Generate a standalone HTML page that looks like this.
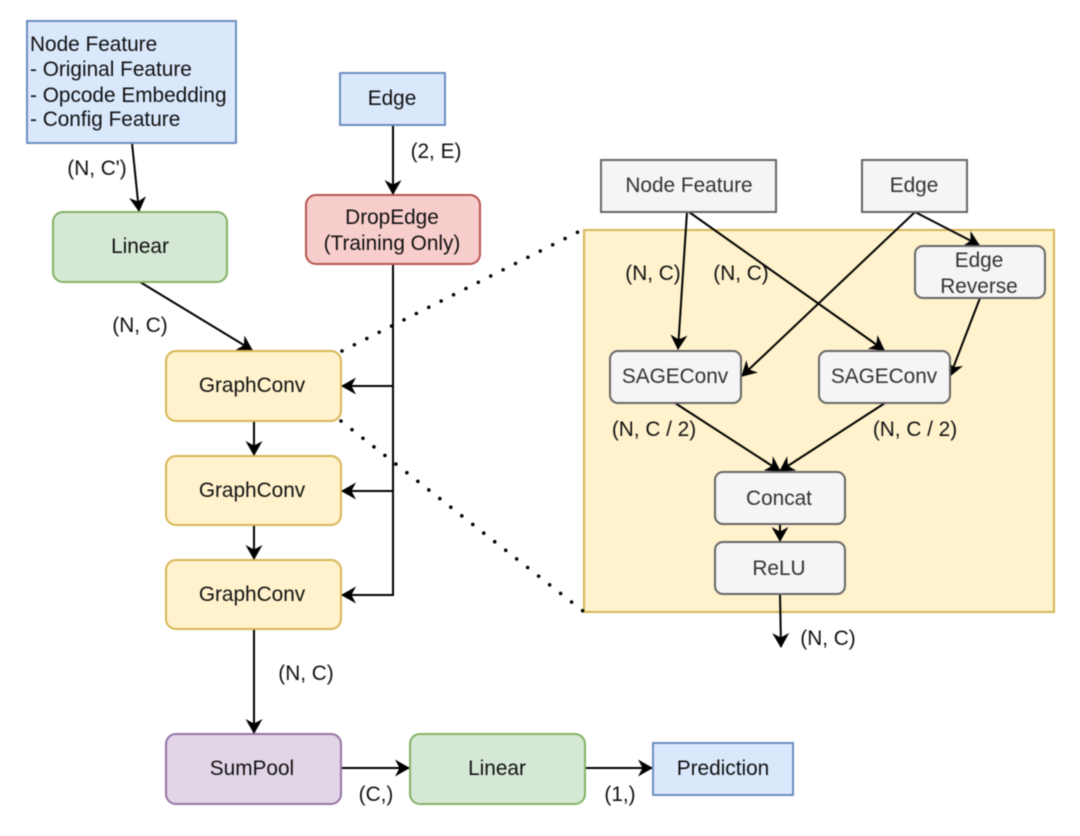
<!DOCTYPE html>
<html>
<head>
<meta charset="utf-8">
<style>
html,body{margin:0;padding:0;background:#fff;width:1080px;height:836px;overflow:hidden}
svg{display:block;filter:blur(0.45px)}
text{font-family:"Liberation Sans",sans-serif;font-size:20.8px;fill:#111;text-anchor:middle}
.l{text-anchor:start}
.g{fill:#333}
.b{fill:#dae8fc;stroke:#6c8ebf;stroke-width:2}
.gr{fill:#d5e8d4;stroke:#82b366;stroke-width:2}
.y{fill:#fff2cc;stroke:#d6b656;stroke-width:2}
.r{fill:#f8cecc;stroke:#b85450;stroke-width:2}
.p{fill:#e1d5e7;stroke:#9673a6;stroke-width:2}
.s{fill:#f5f5f5;stroke:#666;stroke-width:2}
.c{fill:none;stroke:#000;stroke-width:2}
</style>
</head>
<body>
<svg width="1080" height="836" viewBox="0 0 1080 836" xmlns="http://www.w3.org/2000/svg">
<defs>
<marker id="a" viewBox="0 0 15 17" refX="14" refY="8.5" markerWidth="15" markerHeight="17" markerUnits="userSpaceOnUse" orient="auto">
<path d="M15 8.5 L0 0 L4.5 8.5 L0 17 Z" fill="#000"/>
</marker>
</defs>

<!-- Panel -->
<rect x="584" y="230" width="470" height="382" class="y"/>

<!-- Dotted lines -->
<path d="M342 351 L578 232" fill="none" stroke="#000" stroke-width="3.6" stroke-linecap="round" stroke-dasharray="0 13.88"/>
<path d="M341 421 L583 611" fill="none" stroke="#000" stroke-width="3.6" stroke-linecap="round" stroke-dasharray="0 13.96"/>

<!-- Left connectors -->
<path class="c" d="M132 143 L139 211" marker-end="url(#a)"/>
<path class="c" d="M393 125 L393 194" marker-end="url(#a)"/>
<path class="c" d="M140 282 L252 350" marker-end="url(#a)"/>
<path class="c" d="M393 264 L393 595 L342 595" marker-end="url(#a)"/>
<path class="c" d="M393 386 L342 386" marker-end="url(#a)"/>
<path class="c" d="M393 491 L342 491" marker-end="url(#a)"/>
<path class="c" d="M254 421 L254 455" marker-end="url(#a)"/>
<path class="c" d="M254 525 L254 559" marker-end="url(#a)"/>
<path class="c" d="M254 629 L254 733" marker-end="url(#a)"/>
<path class="c" d="M341 768 L409 768" marker-end="url(#a)"/>
<path class="c" d="M585 768 L652 768" marker-end="url(#a)"/>

<!-- Left nodes -->
<rect x="27" y="21" width="209" height="122" class="b"/>
<text class="l" x="30" y="51">Node Feature</text>
<text class="l" x="30" y="76">- Original Feature</text>
<text class="l" x="30" y="102">- Opcode Embedding</text>
<text class="l" x="30" y="126">- Config Feature</text>

<rect x="340" y="73" width="105" height="52" class="b"/>
<text x="392" y="105">Edge</text>

<rect x="306" y="195" width="174" height="69" rx="10" class="r"/>
<text x="392" y="224">DropEdge</text>
<text x="392" y="250">(Training Only)</text>

<rect x="53" y="212" width="174" height="70" rx="10" class="gr"/>
<text x="140" y="253">Linear</text>

<rect x="166" y="351" width="175" height="70" rx="10" class="y"/>
<text x="252" y="392">GraphConv</text>
<rect x="166" y="456" width="175" height="69" rx="10" class="y"/>
<text x="252" y="497">GraphConv</text>
<rect x="166" y="560" width="175" height="69" rx="10" class="y"/>
<text x="252" y="601">GraphConv</text>

<rect x="166" y="734" width="175" height="70" rx="10" class="p"/>
<text x="252" y="775">SumPool</text>
<rect x="410" y="734" width="175" height="70" rx="10" class="gr"/>
<text x="497" y="775">Linear</text>
<rect x="653" y="743" width="140" height="52" class="b"/>
<text x="723" y="775">Prediction</text>

<!-- Left labels -->
<text x="97" y="175">(N, C')</text>
<text x="140" y="332">(N, C)</text>
<text x="436" y="158">(2, E)</text>
<text x="306" y="680">(N, C)</text>
<text x="376" y="801">(C,)</text>
<text x="620" y="801">(1,)</text>

<!-- Right connectors -->
<path class="c" d="M687 212 L678 349" marker-end="url(#a)"/>
<path class="c" d="M689 212 L884 350" marker-end="url(#a)"/>
<path class="c" d="M915 212 L742 376" marker-end="url(#a)"/>
<path class="c" d="M915 212 L979 245" marker-end="url(#a)"/>
<path class="c" d="M980 298 L950 376" marker-end="url(#a)"/>
<path class="c" d="M675 403 L780 471" marker-end="url(#a)"/>
<path class="c" d="M885 403 L780 471" marker-end="url(#a)"/>
<path class="c" d="M780 524 L780 541" marker-end="url(#a)"/>
<path class="c" d="M780 594 L781 647" marker-end="url(#a)"/>

<!-- Right nodes -->
<rect x="601" y="160" width="175" height="52" class="s"/>
<text class="g" x="689" y="192">Node Feature</text>
<rect x="862" y="160" width="105" height="52" class="s"/>
<text class="g" x="914" y="192">Edge</text>
<rect x="915" y="246" width="130" height="52" rx="8" class="s"/>
<text class="g" x="979" y="267">Edge</text>
<text class="g" x="979" y="293">Reverse</text>
<rect x="610" y="351" width="131" height="52" rx="8" class="s"/>
<text class="g" x="675" y="383">SAGEConv</text>
<rect x="819" y="351" width="131" height="52" rx="8" class="s"/>
<text class="g" x="884" y="383">SAGEConv</text>
<rect x="715" y="472" width="130" height="52" rx="8" class="s"/>
<text class="g" x="779" y="505">Concat</text>
<rect x="715" y="542" width="130" height="52" rx="8" class="s"/>
<text class="g" x="779" y="575">ReLU</text>

<!-- Right labels -->
<text x="653" y="280">(N, C)</text>
<text x="741" y="280">(N, C)</text>
<text x="654" y="436">(N, C / 2)</text>
<text x="915" y="436">(N, C / 2)</text>
<text x="828" y="645">(N, C)</text>
</svg>
</body>
</html>
